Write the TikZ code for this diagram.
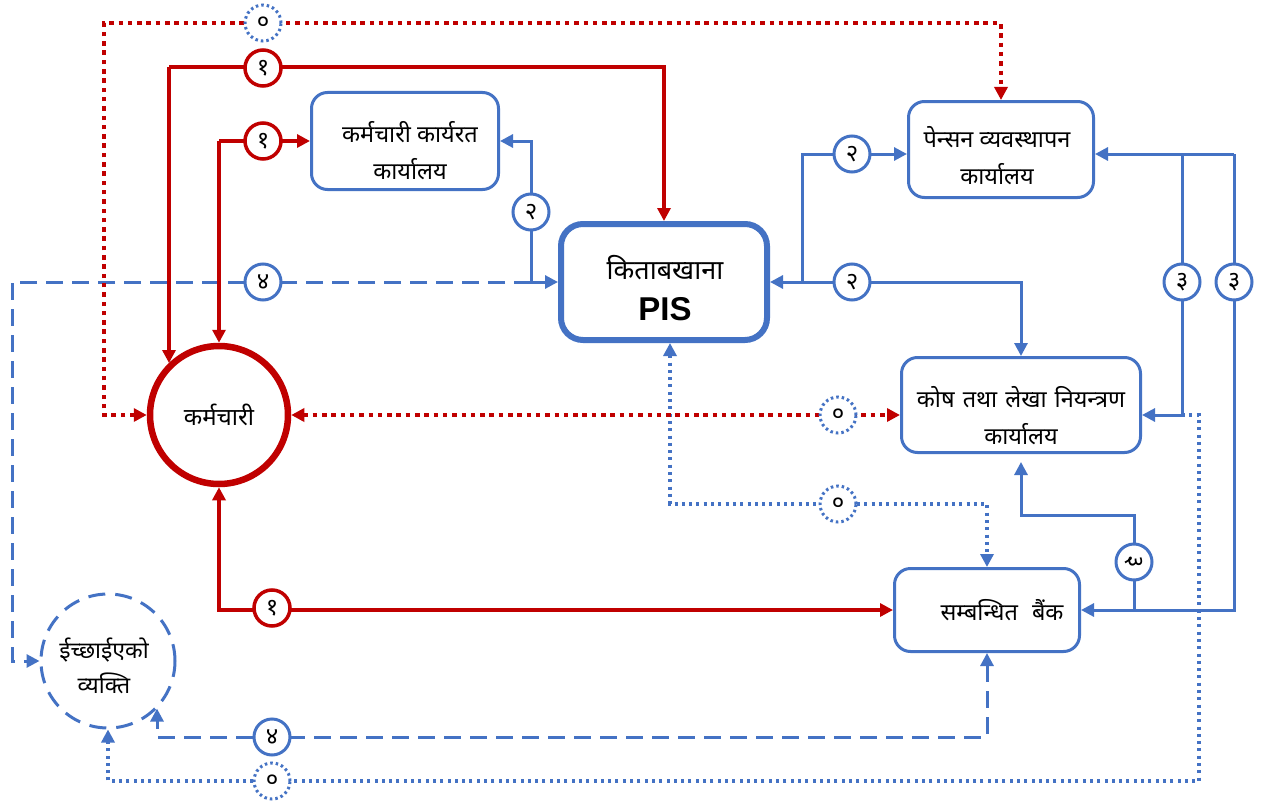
\documentclass[tikz,border=0pt]{standalone}
\usepackage{fontspec}
\setmainfont{Noto Sans}[Script=Devanagari]
\newfontfamily\pisfont{Liberation Sans}
\usetikzlibrary{arrows.meta,shapes.geometric}
\definecolor{myred}{HTML}{C00000}
\definecolor{myblue}{HTML}{4472C4}
\begin{document}
\begin{tikzpicture}[x=1pt,y=-1pt,
  rl/.style={draw=myred,line width=3.2pt},
  bl/.style={draw=myblue,line width=3pt},
  rdot/.style={draw=myred,line width=4.5pt,dash pattern=on 4.5pt off 4.8pt},
  bdot/.style={draw=myblue,line width=3.2pt,dash pattern=on 3pt off 4.3pt},
  bdash/.style={draw=myblue,line width=3pt,dash pattern=on 17pt off 9pt},
  box/.style={draw=myblue,line width=3pt,rounded corners=16pt,fill=white},
  btext/.style={align=center,inner sep=0pt,font=\fontsize{23.5}{37}\selectfont},
  lab/.style={circle,fill=white,minimum size=36pt,inner sep=0pt,font=\fontsize{24}{24}\selectfont},
  labr/.style={lab,draw=myred,line width=3.5pt},
  labb/.style={lab,draw=myblue,line width=3pt},
  labo/.style={lab,draw=myblue,line width=3pt,dash pattern=on 2.5pt off 3pt},
  >={Triangle[length=13pt,width=13pt]}
]
\useasboundingbox (0,0) rectangle (1275,808);
\fill[white] (0,0) rectangle (1275,808);

% main nodes
\node[box,minimum width=187pt,minimum height=97pt] (office) at (405,141) {};
\node[btext] (officeT) at (410,151) {कर्मचारी कार्यरत\\कार्यालय};
\node[box,minimum width=185pt,minimum height=96pt] (pension) at (1001,149.5) {};
\node[btext] (pensionT) at (997,156) {पेन्सन व्यवस्थापन\\कार्यालय};
\node[box,minimum width=239pt,minimum height=95pt] (treasury) at (1021,405) {};
\node[btext] (treasuryT) at (1021,416) {कोष\hspace{2pt} तथा\hspace{2pt} लेखा\hspace{2pt} नियन्त्रण\\कार्यालय};
\node[box,minimum width=185pt,minimum height=83pt] (bank) at (987,610) {};
\node[btext] (bankT) at (1002,610) {सम्बन्धित\hspace{8pt} बैंक};
\node[draw=myblue,line width=6pt,rounded corners=22pt,minimum width=206pt,minimum height=116pt,fill=white] (pis) at (664,282) {};
\node[align=center,inner sep=0pt] (pisT) at (665,288)
  {{\fontsize{27}{27}\selectfont किताबखाना}\\[16pt]{\pisfont\bfseries\fontsize{33}{33}\selectfont PIS}};
\node[circle,draw=myred,line width=6.5pt,minimum size=138pt,fill=white,font=\fontsize{24}{24}\selectfont] (emp) at (219,415) {कर्मचारी};
\node[circle,draw=myblue,line width=3pt,dash pattern=on 17pt off 10pt,minimum size=134pt] (nom) at (108,661) {};
\node[align=center,inner sep=0pt,font=\fontsize{23}{35}\selectfont] (nomT) at (104,666) {ईच्छाईएको\\व्यक्ति};

% junction coordinates
\coordinate (py) at (0,154);
\coordinate (ty) at (0,415);
\coordinate (r1) at (104,23);
\coordinate (r2) at (169,67);
\coordinate (r3) at (219,141);
\coordinate (r4) at (219,610);
\coordinate (jA) at (531,282);
\coordinate (d1) at (12,282);
\coordinate (jB) at (802,282);
\coordinate (k1) at (1234,154);
\coordinate (k2) at (1182,154);
\coordinate (k3) at (1134,610);
\coordinate (k4) at (1134,515);
\coordinate (m1) at (670,504);
\coordinate (n1) at (987,737);
\coordinate (n2) at (157,737);
\coordinate (p1) at (1199,415);
\coordinate (p2) at (1199,781);

% blue dashed
\draw[bdash,->] (jA) -- (d1) |- (nom.west);
\draw[bdash,<->] (bank.south) -- (n1) -- (n2) -- (n2 |- nom.-44);
% blue dotted
\draw[bdot,<->] (m1 |- pis.south) -- (m1) -| (bank.north);
\draw[bdot,->] (k2 |- ty) -- (p1) -- (p2) -| (nom.south);
% blue solid
\draw[bl,<->] (office.east) -| (jA) -- (pis.west);
\draw[bl,->] (jB) -- (pis.east);
\draw[bl,->] (jB) |- (pension.west |- py);
\draw[bl,->] (jB) -| (treasury.north);
\draw[bl,->] (k1) -- (pension.east |- py);
\draw[bl,->] (k1) |- (bank.east);
\draw[bl,->] (k2) |- (treasury.east |- ty);
\draw[bl,->] (k3) -- (k4) -| ([yshift=-8pt]treasury.south);
% red solid
\draw[rl,->] (r2) -| (pis.north);
\draw[rl,->] (r2) -- (r2 |- emp.134);
\draw[rl,->] (r3) -- (office.west);
\draw[rl,->] (r3) -- (emp.north);
\draw[rl,<->] (emp.south) -- (r4) -- (bank.west);
% red dotted
\draw[rdot,<->] (emp.west) -| (r1) -| (pension.north);
\draw[rdot,<->] (emp.east) -- (treasury.west |- ty);

% labels
\node[labo] (l01) at (263,23) {०};
\node[labo] (l02) at (838,415) {०};
\node[labo] (l03) at (838,504) {०};
\node[labo] (l04) at (272,781) {०};
\node[labr] (l11) at (263,68) {१};
\node[labr] (l12) at (263,141) {१};
\node[labr] (l13) at (272,608) {१};
\node[labb] (l21) at (531,212) {२};
\node[labb] (l22) at (852,154) {२};
\node[labb] (l23) at (852,282) {२};
\node[labb] (l31) at (1182,282) {३};
\node[labb] (l32) at (1234,282) {३};
\node[labb] (l33) at (1134,562) {\rotatebox{-90}{३}};
\node[labb] (l41) at (263,282) {४};
\node[labb] (l42) at (272,737) {४};
\end{tikzpicture}
\end{document}
